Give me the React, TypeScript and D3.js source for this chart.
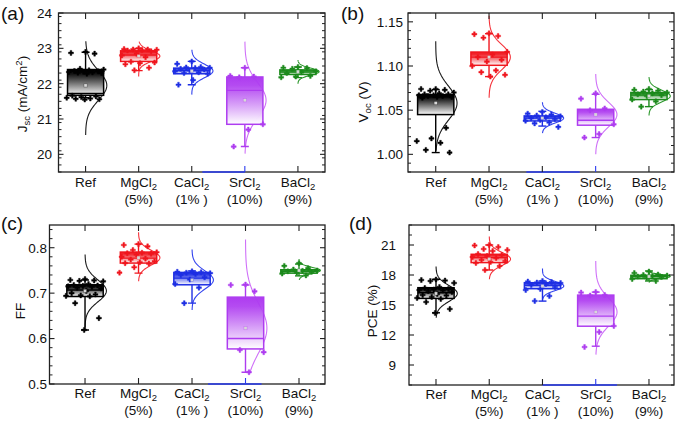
import React from "react";
import * as d3 from "d3";

// ---------- categories ----------
const categories = ["Ref", "MgCl", "CaCl", "SrCl", "BaCl"];
const categorySubs = ["", "2", "2", "2", "2"];
const categoryNotes = ["", "(5%)", "(1% )", "(10%)", "(9%)"];
const groupColors = ["#000000", "#f0161e", "#1e2fe4", "#ae3cf0", "#1c8a1c"];
const curveColors = ["#1a1a1a", "#f5333b", "#3243ee", "#cf70f8", "#2c982c"];

// ---------- (a) Jsc ----------
const jscTicks = [20, 21, 22, 23, 24];
const jscTickLabels = ["20", "21", "22", "23", "24"];
const jscQ1 = [21.67, 22.63, 22.28, 20.85, 22.26];
const jscMedian = [21.72, 22.81, 22.37, 21.81, 22.33];
const jscQ3 = [22.4, 22.93, 22.44, 22.19, 22.39];
const jscMean = [21.95, 22.78, 22.36, 21.53, 22.34];
const jscWhiskerLo = [21.6, 22.37, 21.97, 20.22, 22.17];
const jscWhiskerHi = [22.89, 23.0, 22.63, 22.45, 22.47];
const jscSd = [0.42, 0.15, 0.19, 0.5, 0.1];
const jscCurveLo = [20.55, 22.2, 21.69, 20.02, 22.0];
const jscCurveHi = [23.2, 23.19, 22.96, 23.19, 22.67];
const jscPoints = [
  [22.9, 22.87, 22.85, 22.42, 22.4, 22.38, 22.36, 22.35, 22.34, 22.33, 22.32, 22.31, 22.3, 22.28, 21.66, 21.64, 21.62, 21.6, 21.58, 21.57, 21.56, 21.55],
  [23.0, 22.98, 22.97, 22.97, 22.96, 22.95, 22.94, 22.92, 22.85, 22.8, 22.75, 22.62, 22.6, 22.58, 22.55, 22.45, 22.38],
  [22.63, 22.56, 22.47, 22.46, 22.45, 22.44, 22.42, 22.4, 22.38, 22.35, 22.32, 22.3, 22.28, 22.1, 21.97],
  [22.45, 22.22, 22.2, 22.18, 20.85, 20.7, 20.22],
  [22.47, 22.45, 22.44, 22.42, 22.35, 22.32, 22.3, 22.22, 22.2, 22.18],
];

// ---------- (b) Voc ----------
const vocTicks = [1.0, 1.05, 1.1, 1.15];
const vocTickLabels = ["1.00", "1.05", "1.10", "1.15"];
const vocQ1 = [1.045, 1.1008, 1.0378, 1.033, 1.062];
const vocMedian = [1.065, 1.11, 1.041, 1.0386, 1.067];
const vocQ3 = [1.0676, 1.1158, 1.0435, 1.051, 1.07];
const vocMean = [1.058, 1.11, 1.041, 1.045, 1.066];
const vocWhiskerLo = [1.002, 1.088, 1.032, 1.019, 1.054];
const vocWhiskerHi = [1.0733, 1.1366, 1.0487, 1.068, 1.0733];
const vocSd = [0.019, 0.014, 0.0055, 0.014, 0.0066];
const vocCurveLo = [1.004, 1.064, 1.024, 1.0, 1.044];
const vocCurveHi = [1.128, 1.157, 1.059, 1.091, 1.0876];
const vocPoints = [
  [1.074, 1.074, 1.073, 1.072, 1.07, 1.069, 1.068, 1.068, 1.067, 1.067, 1.066, 1.066, 1.065, 1.065, 1.064, 1.03, 1.018, 1.015, 1.013, 1.005, 1.002],
  [1.137, 1.136, 1.134, 1.132, 1.116, 1.113, 1.11, 1.107, 1.105, 1.1, 1.095, 1.093, 1.09, 1.088],
  [1.048, 1.046, 1.045, 1.044, 1.043, 1.042, 1.041, 1.04, 1.039, 1.038, 1.036, 1.035, 1.031],
  [1.069, 1.063, 1.052, 1.05, 1.034, 1.023, 1.019],
  [1.074, 1.073, 1.072, 1.071, 1.07, 1.069, 1.068, 1.067, 1.066, 1.062, 1.06, 1.054],
];

// ---------- (c) FF ----------
const ffTicks = [0.5, 0.6, 0.7, 0.8];
const ffTickLabels = ["0.5", "0.6", "0.7", "0.8"];
const ffQ1 = [0.6926, 0.7662, 0.7184, 0.5772, 0.744];
const ffMedian = [0.707, 0.777, 0.733, 0.6, 0.748];
const ffQ3 = [0.7184, 0.7904, 0.7456, 0.6912, 0.7515];
const ffMean = [0.705, 0.778, 0.729, 0.623, 0.75];
const ffWhiskerLo = [0.619, 0.744, 0.678, 0.526, 0.738];
const ffWhiskerHi = [0.729, 0.808, 0.749, 0.718, 0.764];
const ffSd = [0.024, 0.016, 0.02, 0.055, 0.007];
const ffCurveLo = [0.625, 0.726, 0.663, 0.522, 0.729];
const ffCurveHi = [0.785, 0.834, 0.796, 0.818, 0.775];
const ffPoints = [
  [0.731, 0.729, 0.728, 0.727, 0.726, 0.72, 0.718, 0.717, 0.716, 0.715, 0.714, 0.712, 0.71, 0.705, 0.7, 0.697, 0.695, 0.694, 0.693, 0.678, 0.645, 0.619],
  [0.808, 0.806, 0.803, 0.795, 0.79, 0.789, 0.788, 0.787, 0.785, 0.78, 0.776, 0.774, 0.77, 0.768, 0.766, 0.765, 0.757, 0.745],
  [0.748, 0.747, 0.746, 0.745, 0.744, 0.742, 0.74, 0.735, 0.73, 0.72, 0.712, 0.678],
  [0.719, 0.718, 0.704, 0.575, 0.57, 0.526],
  [0.766, 0.76, 0.755, 0.752, 0.75, 0.749, 0.748, 0.747, 0.745, 0.743, 0.739],
];

// ---------- (d) PCE ----------
const pceTicks = [9, 12, 15, 18, 21];
const pceTickLabels = ["9", "12", "15", "18", "21"];
const pceQ1 = [15.66, 19.24, 16.63, 12.88, 17.63];
const pceMedian = [16.23, 19.74, 16.96, 13.89, 17.85];
const pceQ3 = [16.73, 20.07, 17.23, 15.99, 17.97];
const pceMean = [16.15, 19.6, 16.9, 14.3, 17.85];
const pceWhiskerLo = [14.22, 18.5, 15.39, 10.88, 17.4];
const pceWhiskerHi = [17.57, 21.0, 17.4, 16.29, 18.4];
const pceSd = [0.8, 0.65, 0.45, 1.4, 0.19];
const pceCurveLo = [13.72, 17.57, 15.56, 10.04, 17.23];
const pceCurveHi = [18.84, 21.85, 18.64, 19.4, 18.4];
const pcePoints = [
  [17.55, 17.5, 17.45, 17.4, 17.2, 16.8, 16.7, 16.6, 16.55, 16.5, 16.45, 16.4, 16.3, 16.1, 16.0, 15.95, 15.8, 15.7, 15.6, 15.3, 14.6, 14.2],
  [21.0, 20.95, 20.8, 20.6, 20.5, 20.4, 20.1, 20.0, 19.9, 19.8, 19.7, 19.5, 19.4, 19.3, 19.2, 18.9, 18.5],
  [17.4, 17.35, 17.3, 17.25, 17.2, 17.1, 17.0, 16.8, 16.6, 16.5, 15.9, 15.4],
  [16.3, 16.25, 16.0, 15.95, 12.9, 12.3, 10.8],
  [18.35, 18.2, 18.05, 18.0, 17.95, 17.9, 17.85, 17.8, 17.7, 17.6, 17.4],
];

const FONT = "'Liberation Sans', Arial, Helvetica, sans-serif";

type PanelCfg = {
  key: string;
  letter: string;
  letterX: number;
  letterY: number;
  left: number;
  right: number;
  top: number;
  bottom: number;
  xDomain: [number, number];
  yDomain: [number, number];
  ticks: number[];
  tickLabels: string[];
  minorStep: number;
  tickLabelX: number;
  titleX: number;
  titleY: number;
  title: "jsc" | "voc" | "ff" | "pce";
  catY: number;
  noteY: number;
  blue: [number, number];
  q1: number[];
  median: number[];
  q3: number[];
  mean: number[];
  wLo: number[];
  wHi: number[];
  sd: number[];
  cLo: number[];
  cHi: number[];
  points: number[][];
};

const panels: PanelCfg[] = [
  {
    key: "a", letter: "(a)", letterX: 1, letterY: 20,
    left: 58.5, right: 325, top: 13, bottom: 172,
    xDomain: [0.49, 5.51], yDomain: [19.5, 24],
    ticks: jscTicks, tickLabels: jscTickLabels, minorStep: 0.2,
    tickLabelX: 52, titleX: 27, titleY: 94, title: "jsc",
    catY: 187, noteY: 204, blue: [3.2, 4.0],
    q1: jscQ1, median: jscMedian, q3: jscQ3, mean: jscMean, wLo: jscWhiskerLo, wHi: jscWhiskerHi,
    sd: jscSd, cLo: jscCurveLo, cHi: jscCurveHi, points: jscPoints,
  },
  {
    key: "b", letter: "(b)", letterX: 341, letterY: 20,
    left: 408, right: 674, top: 13, bottom: 172,
    xDomain: [0.48, 5.47], yDomain: [0.98, 1.16],
    ticks: vocTicks, tickLabels: vocTickLabels, minorStep: 0.01,
    tickLabelX: 403, titleX: 368, titleY: 102, title: "voc",
    catY: 187, noteY: 204, blue: [2.7, 3.7],
    q1: vocQ1, median: vocMedian, q3: vocQ3, mean: vocMean, wLo: vocWhiskerLo, wHi: vocWhiskerHi,
    sd: vocSd, cLo: vocCurveLo, cHi: vocCurveHi, points: vocPoints,
  },
  {
    key: "c", letter: "(c)", letterX: 1, letterY: 230,
    left: 49.5, right: 325, top: 225, bottom: 384,
    xDomain: [0.336, 5.486], yDomain: [0.5, 0.85],
    ticks: ffTicks, tickLabels: ffTickLabels, minorStep: 0.02,
    tickLabelX: 47, titleX: 25, titleY: 311, title: "ff",
    catY: 398, noteY: 415, blue: [3.3, 4.3],
    q1: ffQ1, median: ffMedian, q3: ffQ3, mean: ffMean, wLo: ffWhiskerLo, wHi: ffWhiskerHi,
    sd: ffSd, cLo: ffCurveLo, cHi: ffCurveHi, points: ffPoints,
  },
  {
    key: "d", letter: "(d)", letterX: 349, letterY: 230,
    left: 409, right: 674, top: 225, bottom: 385,
    xDomain: [0.493, 5.47], yDomain: [7, 23],
    ticks: pceTicks, tickLabels: pceTickLabels, minorStep: 1,
    tickLabelX: 396, titleX: 377, titleY: 311, title: "pce",
    catY: 399, noteY: 416, blue: [3.0, 4.4],
    q1: pceQ1, median: pceMedian, q3: pceQ3, mean: pceMean, wLo: pceWhiskerLo, wHi: pceWhiskerHi,
    sd: pceSd, cLo: pceCurveLo, cHi: pceCurveHi, points: pcePoints,
  },
];

function Title({ kind, x, y }: { kind: string; x: number; y: number }) {
  const common = {
    transform: `translate(${x},${y}) rotate(-90)`,
    textAnchor: "middle" as const,
    fontSize: 13.5,
    fontFamily: FONT,
    fill: "#111",
  };
  if (kind === "jsc")
    return (
      <text {...common}>
        J<tspan dy={3} fontSize={9.5}>sc</tspan>
        <tspan dy={-3}> (mA/cm</tspan>
        <tspan dy={-5} fontSize={9.5}>2</tspan>
        <tspan dy={5}>)</tspan>
      </text>
    );
  if (kind === "voc")
    return (
      <text {...common}>
        V<tspan dy={3} fontSize={9.5}>oc</tspan>
        <tspan dy={-3}> (V)</tspan>
      </text>
    );
  if (kind === "ff") return <text {...common}>FF</text>;
  return <text {...common}>PCE (%)</text>;
}

function Panel({ cfg }: { cfg: PanelCfg }) {
  const x = d3.scaleLinear().domain(cfg.xDomain).range([cfg.left, cfg.right]);
  const y = d3.scaleLinear().domain(cfg.yDomain).range([cfg.bottom, cfg.top]);
  const step = x(2) - x(1);
  const boxHalf = step * 0.34;
  const amp = step * 0.4;
  const capHalf = 4;
  const cats = d3.range(1, categories.length + 1);
  const eps = cfg.minorStep * 1e-3;
  const minors = d3
    .range(cfg.yDomain[0], cfg.yDomain[1] + eps, cfg.minorStep)
    .filter((v) => !cfg.ticks.some((t) => Math.abs(t - v) < eps * 10));
  const sym = d3.symbol(d3.symbolCross, 14);
  const clipId = `clip-${cfg.key}`;
  const line = d3.line<[number, number]>().x((d) => d[0]).y((d) => d[1]);

  return (
    <g>
      <defs>
        <clipPath id={clipId}>
          <rect x={cfg.left} y={cfg.top} width={cfg.right - cfg.left} height={cfg.bottom - cfg.top} />
        </clipPath>
      </defs>
      <text x={cfg.letterX} y={cfg.letterY} fontSize={19} fontFamily={FONT} fill="#111">
        {cfg.letter}
      </text>
      <Title kind={cfg.title} x={cfg.titleX} y={cfg.titleY} />

      <g clipPath={`url(#${clipId})`}>
        {cats.map((c, i) => {
          const xc = x(c);
          const mu = cfg.mean[i];
          const sd = cfg.sd[i];
          const vals = d3.range(0, 81).map((k) => cfg.cLo[i] + ((cfg.cHi[i] - cfg.cLo[i]) * k) / 80);
          const pts: [number, number][] = vals.map((v) => [
            xc + amp * Math.exp(-((v - mu) * (v - mu)) / (2 * sd * sd)),
            y(v),
          ]);
          const col = groupColors[i];
          const top = y(cfg.q3[i]);
          const bot = y(cfg.q1[i]);
          return (
            <g key={i}>
              <path d={line(pts) || ""} fill="none" stroke={curveColors[i]} strokeWidth={1.1} />
              <line x1={xc} x2={xc} y1={top} y2={y(cfg.wHi[i])} stroke={col} strokeWidth={1.4} />
              <line x1={xc} x2={xc} y1={bot} y2={y(cfg.wLo[i])} stroke={col} strokeWidth={1.4} />
              <line x1={xc - capHalf} x2={xc + capHalf} y1={y(cfg.wHi[i])} y2={y(cfg.wHi[i])} stroke={col} strokeWidth={1.4} />
              <line x1={xc - capHalf} x2={xc + capHalf} y1={y(cfg.wLo[i])} y2={y(cfg.wLo[i])} stroke={col} strokeWidth={1.4} />
              <rect
                x={xc - boxHalf}
                y={top}
                width={boxHalf * 2}
                height={Math.max(bot - top, 1)}
                fill={`url(#grad-${i})`}
                stroke={col}
                strokeWidth={1.5}
              />
              <line x1={xc - boxHalf} x2={xc + boxHalf} y1={y(cfg.median[i])} y2={y(cfg.median[i])} stroke={col} strokeWidth={1.4} />
              {cfg.points[i].map((v, j) => {
                const f = ((j * 0.618034 + 0.5) % 1) - 0.5;
                const px = xc + f * 2 * step * 0.36;
                return (
                  <path key={j} d={sym() || ""} transform={`translate(${px},${y(v)})`} fill={col} stroke={col} strokeWidth={0.4} />
                );
              })}
              <rect x={xc - 1.6} y={y(mu) - 1.6} width={3.2} height={3.2} fill="#d8d8d8" stroke={col} strokeOpacity={0.45} strokeWidth={0.6} />
            </g>
          );
        })}
      </g>

      <rect x={cfg.left} y={cfg.top} width={cfg.right - cfg.left} height={cfg.bottom - cfg.top} fill="none" stroke="#222" strokeWidth={1.3} />
      <line x1={x(cfg.blue[0])} x2={x(cfg.blue[1])} y1={cfg.bottom} y2={cfg.bottom} stroke="#2a3cf0" strokeWidth={1.3} />

      {cfg.ticks.map((t, k) => (
        <g key={`t${k}`}>
          <line x1={cfg.left} x2={cfg.left + 5} y1={y(t)} y2={y(t)} stroke="#222" strokeWidth={1.1} />
          <line x1={cfg.right} x2={cfg.right - 5} y1={y(t)} y2={y(t)} stroke="#222" strokeWidth={1.1} />
          <text x={cfg.tickLabelX} y={y(t)} dy="0.36em" textAnchor="end" fontSize={13.5} fontFamily={FONT} fill="#111">
            {cfg.tickLabels[k]}
          </text>
        </g>
      ))}
      {minors.map((t, k) => (
        <g key={`m${k}`}>
          <line x1={cfg.left} x2={cfg.left + 3} y1={y(t)} y2={y(t)} stroke="#222" strokeWidth={1} />
          <line x1={cfg.right} x2={cfg.right - 3} y1={y(t)} y2={y(t)} stroke="#222" strokeWidth={1} />
        </g>
      ))}

      {cats.map((c, i) => (
        <g key={`x${i}`}>
          <line x1={x(c)} x2={x(c)} y1={cfg.bottom} y2={cfg.bottom - 6} stroke={i === 3 ? "#2a3cf0" : "#222"} strokeWidth={1.1} />
          <line x1={x(c)} x2={x(c)} y1={cfg.top} y2={cfg.top + 6} stroke="#222" strokeWidth={1.1} />
          <text x={x(c)} y={cfg.catY} textAnchor="middle" fontSize={13.5} fontFamily={FONT} fill="#111">
            {categories[i]}
            {categorySubs[i] ? (
              <tspan dy={3} fontSize={9.5}>
                {categorySubs[i]}
              </tspan>
            ) : null}
          </text>
          {categoryNotes[i] ? (
            <text x={x(c)} y={cfg.noteY} textAnchor="middle" fontSize={13.5} fontFamily={FONT} fill="#111">
              {categoryNotes[i]}
            </text>
          ) : null}
        </g>
      ))}
    </g>
  );
}

export default function App() {
  return (
    <svg
      width={680}
      height={423}
      viewBox="0 0 680 423"
      style={{ position: "absolute", left: 0, top: 0, display: "block", background: "#fff" }}
    >
      <defs>
        {groupColors.map((c, i) => (
          <linearGradient key={i} id={`grad-${i}`} x1="0" y1="0" x2="0" y2="1">
            <stop offset="0" stopColor={c} />
            <stop offset="0.18" stopColor={c} stopOpacity={0.92} />
            <stop offset="1" stopColor="#ffffff" stopOpacity={1} />
          </linearGradient>
        ))}
      </defs>
      <rect x={0} y={0} width={680} height={423} fill="#fff" />
      {panels.map((p) => (
        <Panel key={p.key} cfg={p} />
      ))}
    </svg>
  );
}
